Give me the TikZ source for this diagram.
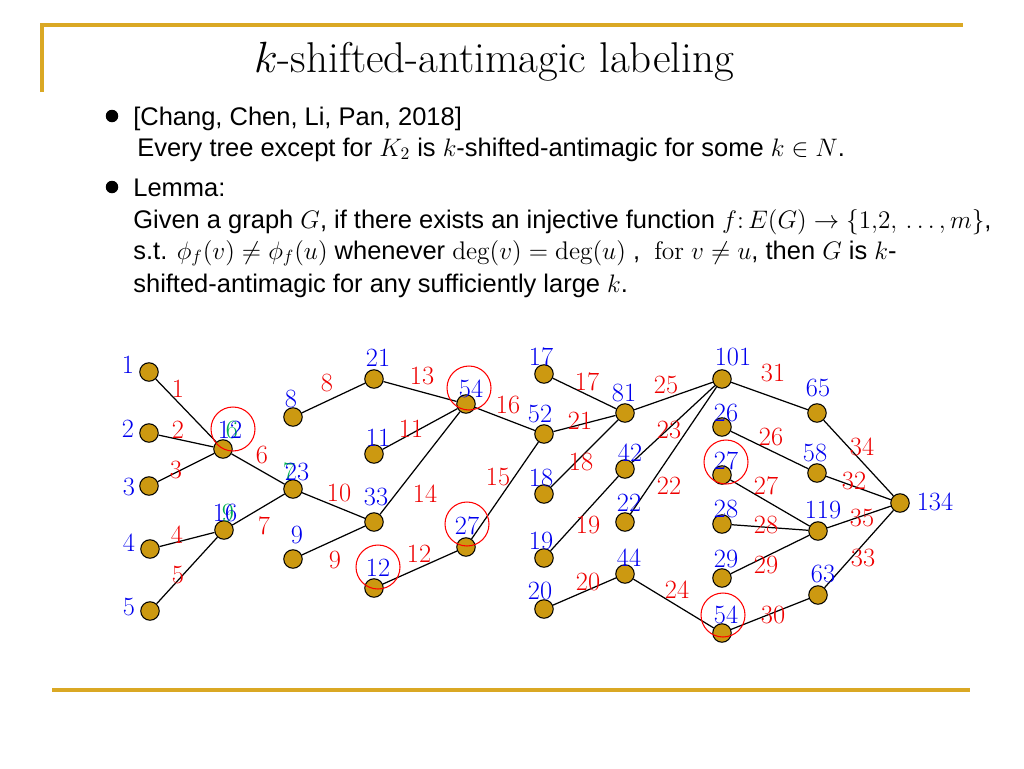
\documentclass[tikz,border=0pt]{standalone}
\usepackage{amsmath}
\usepackage{amssymb}
\usepackage{fontspec}
\newfontfamily\slidesans{Liberation Sans}
\usetikzlibrary{positioning}
\definecolor{slidegold}{RGB}{218,168,36}
\definecolor{vtxgold}{RGB}{204,153,17}
\definecolor{numblue}{RGB}{0,0,238}
\definecolor{numred}{RGB}{238,0,0}
\definecolor{numgreen}{RGB}{0,176,80}
\tikzset
{
	frameline/.style = {draw=slidegold, line width=2pt},
	titletext/.style = {font=\fontsize{24.5}{28}\selectfont, inner sep=0pt},
	bodytext/.style = {font=\slidesans\fontsize{14.5}{17}\selectfont, anchor=base west, inner sep=0pt},
	bulletdot/.style = {circle, fill=black, minimum size=0.25cm, inner sep=0pt},
	vtx/.style = {circle, draw=black, fill=vtxgold, minimum size=0.37cm, inner sep=0pt, line width=0.6pt},
	vlbl/.style = {text=numblue, font=\fontsize{15}{17}\selectfont, inner sep=0pt},
	elbl/.style = {text=numred, font=\fontsize{15}{17}\selectfont, inner sep=0pt},
	glbl/.style = {text=numgreen, font=\fontsize{15}{17}\selectfont, inner sep=0pt},
	ring/.style = {circle, draw=red, minimum size=0.88cm, inner sep=0pt, line width=0.6pt},
	link/.style = {draw=black, line width=0.7pt}
}

\begin{document}
\begin{tikzpicture}[x=0.02cm, y=-0.02cm]
\useasboundingbox (0,0) rectangle (1024,768);
% slide frame
\draw[frameline] (42,92) -- (42,25) -- (963,25);
\draw[frameline] (52,690) -- (970,690);
% title and text
\node[titletext] (title) at (494,62) {$k$-shifted-antimagic labeling};
\node[bulletdot] (dot1) at (112,116) {};
\node[bodytext] (cite) at (133,125) {[Chang, Chen, Li, Pan, 2018]};
\node[bodytext] (thm) at (137,156) {Every tree except for $K_2$ is $k$-shifted-antimagic for some $k\in N$.};
\node[bulletdot] (dot2) at (112,187) {};
\node[bodytext] (lemma) at (133,196) {Lemma:};
\node[bodytext] (lemA) at (133,228) {Given a graph $G$, if there exists an injective function $f{:}\,E(G)\rightarrow\{1{,}2{,}\,\ldots{,}\,m\}$,};
\node[bodytext] (lemB) at (133,259) {s.t. $\phi_f(v)\neq\phi_f(u)$ whenever $\deg(v)=\deg(u)$\ ,\ \ $\mathrm{for}\ v\neq u$, then $G$ is $k$-};
\node[bodytext] (lemC) at (133,292) {shifted-antimagic for any sufficiently large $k$.};

% vertices
\node[vtx] (a1) at (149,372) {};
\node[vtx] (a2) at (149,433) {};
\node[vtx] (a3) at (149,486) {};
\node[vtx] (a4) at (150,549) {};
\node[vtx] (a5) at (150,611) {};
\node[vtx] (b1) at (223,449) {};
\node[vtx] (b2) at (224,530) {};
\node[vtx] (c1) at (293,417) {};
\node[vtx] (c2) at (293,489) {};
\node[vtx] (c3) at (293,559) {};
\node[vtx] (d1) at (374,379) {};
\node[vtx] (d2) at (374,454) {};
\node[vtx] (d3) at (374,522) {};
\node[vtx] (d4) at (374,588) {};
\node[vtx] (e1) at (466,404) {};
\node[vtx] (e2) at (466,547) {};
\node[vtx] (f1) at (544,374) {};
\node[vtx] (f2) at (544,434) {};
\node[vtx] (f3) at (544,494) {};
\node[vtx] (f4) at (544,558) {};
\node[vtx] (f5) at (544,609) {};
\node[vtx] (g1) at (625,413) {};
\node[vtx] (g2) at (625,469) {};
\node[vtx] (g3) at (625,522) {};
\node[vtx] (g4) at (625,574) {};
\node[vtx] (h1) at (722,379) {};
\node[vtx] (h2) at (722,427) {};
\node[vtx] (h3) at (722,475) {};
\node[vtx] (h4) at (722,524) {};
\node[vtx] (h5) at (722,578) {};
\node[vtx] (h6) at (722,633) {};
\node[vtx] (i1) at (817,413) {};
\node[vtx] (i2) at (817,473) {};
\node[vtx] (i3) at (818,531) {};
\node[vtx] (i4) at (818,595) {};
\node[vtx] (j1) at (900,503) {};

% edges with their labels
\draw[link] (a1) -- (b1) node[elbl] at (178,389) {1};
\draw[link] (a2) -- (b1) node[elbl] at (178,430) {2};
\draw[link] (a3) -- (b1) node[elbl] at (176,470) {3};
\draw[link] (a4) -- (b2) node[elbl] at (177,535) {4};
\draw[link] (a5) -- (b2) node[elbl] at (178,575) {5};
\draw[link] (b1) -- (c2) node[elbl] at (262,455) {6};
\draw[link] (b2) -- (c2) node[elbl] at (264,526) {7};
\draw[link] (c1) -- (d1) node[elbl] at (327,383) {8};
\draw[link] (c3) -- (d3) node[elbl] at (335,560) {9};
\draw[link] (c2) -- (d3) node[elbl] at (339,493) {10};
\draw[link] (d2) -- (e1) node[elbl] at (411,429) {11};
\draw[link] (d4) -- (e2) node[elbl] at (419,554) {12};
\draw[link] (d1) -- (e1) node[elbl] at (422,376) {13};
\draw[link] (d3) -- (e1) node[elbl] at (425,494) {14};
\draw[link] (e2) -- (f2) node[elbl] at (498,477) {15};
\draw[link] (e1) -- (f2) node[elbl] at (508,405) {16};
\draw[link] (f1) -- (g1) node[elbl] at (587,382) {17};
\draw[link] (f3) -- (g1) node[elbl] at (581,462) {18};
\draw[link] (f4) -- (g2) node[elbl] at (588,525) {19};
\draw[link] (f5) -- (g4) node[elbl] at (588,582) {20};
\draw[link] (f2) -- (g1) node[elbl] at (580,421) {21};
\draw[link] (g3) -- (h1) node[elbl] at (669,486) {22};
\draw[link] (g2) -- (h1) node[elbl] at (669,430) {23};
\draw[link] (g4) -- (h6) node[elbl] at (677,590) {24};
\draw[link] (g1) -- (h1) node[elbl] at (666,385) {25};
\draw[link] (h2) -- (i2) node[elbl] at (771,437) {26};
\draw[link] (h3) -- (i3) node[elbl] at (766,486) {27};
\draw[link] (h4) -- (i3) node[elbl] at (766,525) {28};
\draw[link] (h5) -- (i3) node[elbl] at (766,565) {29};
\draw[link] (h6) -- (i4) node[elbl] at (773,615) {30};
\draw[link] (h1) -- (i1) node[elbl] at (773,373) {31};
\draw[link] (i2) -- (j1) node[elbl] at (854,481) {32};
\draw[link] (i4) -- (j1) node[elbl] at (863,558) {33};
\draw[link] (i1) -- (j1) node[elbl] at (862,447) {34};
\draw[link] (i3) -- (j1) node[elbl] at (862,518) {35};

% vertex labels
\node[vlbl] (ta1) at (128,365) {1};
\node[vlbl] (ta2) at (128,429) {2};
\node[vlbl] (ta3) at (129,487) {3};
\node[vlbl] (ta4) at (129,543) {4};
\node[vlbl] (ta5) at (129,607) {5};
\node[glbl] (sb1) at (232,430) {6};
\node[vlbl] (tb1) at (230,430) {12};
\node[glbl] (sb2) at (228,513) {9};
\node[vlbl] (tb2) at (225,513) {16};
\node[vlbl] (tc1) at (291,399) {8};
\node[glbl] (sc2) at (289,472) {7};
\node[vlbl] (tc2) at (297,472) {23};
\node[vlbl] (tc3) at (297,535) {9};
\node[vlbl] (td1) at (378,358) {21};
\node[vlbl] (td2) at (378,438) {11};
\node[vlbl] (td3) at (376,497) {33};
\node[vlbl] (td4) at (378,568) {12};
\node[vlbl] (te1) at (471,389) {54};
\node[vlbl] (te2) at (467,526) {27};
\node[vlbl] (tf1) at (541,357) {17};
\node[vlbl] (tf2) at (540,414) {52};
\node[vlbl] (tf3) at (541,478) {18};
\node[vlbl] (tf4) at (541,541) {19};
\node[vlbl] (tf5) at (540,591) {20};
\node[vlbl] (tg1) at (624,393) {81};
\node[vlbl] (tg2) at (630,453) {42};
\node[vlbl] (tg3) at (629,503) {22};
\node[vlbl] (tg4) at (629,558) {44};
\node[vlbl] (th1) at (733,357) {101};
\node[vlbl] (th2) at (726,413) {26};
\node[vlbl] (th3) at (726,461) {27};
\node[vlbl] (th4) at (726,509) {28};
\node[vlbl] (th5) at (726,559) {29};
\node[vlbl] (th6) at (726,615) {54};
\node[vlbl] (ti1) at (818,388) {65};
\node[vlbl] (ti2) at (815,453) {58};
\node[vlbl] (ti3) at (823,510) {119};
\node[vlbl] (ti4) at (823,574) {63};
\node[vlbl] (tj1) at (935,502) {134};

% highlighted labels
\node[ring] (rb1) at (233,429) {};
\node[ring] (rd4) at (378,567) {};
\node[ring] (re1) at (469,388) {};
\node[ring] (re2) at (467,524) {};
\node[ring] (rh3) at (726,462) {};
\node[ring] (rh6) at (723,615) {};
\end{tikzpicture}
\end{document}
